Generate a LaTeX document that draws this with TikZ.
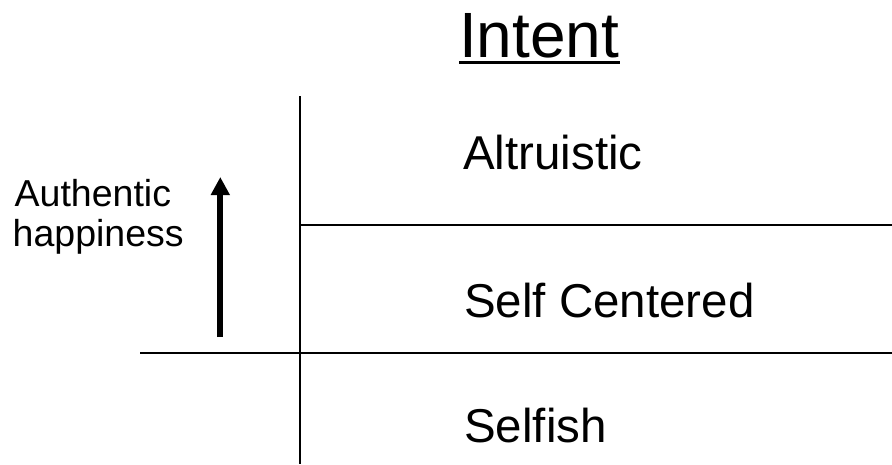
\documentclass[tikz,border=0pt]{standalone}
\usepackage{fontspec}
\setmainfont{Liberation Sans}
\usetikzlibrary{arrows.meta}
\begin{document}
\begin{tikzpicture}[x=1pt,y=-1pt,
  rule/.style={line width=2pt,black},
  lbl/.style={anchor=base west,inner sep=0pt,font=\fontsize{47.5}{52}\selectfont},
  sidelbl/.style={anchor=base west,inner sep=0pt,font=\fontsize{37.5}{41}\selectfont},
  uparrow/.style={line width=6pt,-{Triangle[width=18pt,length=18pt]}}]
\fill[white] (0,0) rectangle (892,464);
\useasboundingbox (0,0) rectangle (892,464);
% title
\node[anchor=base west,inner sep=0pt,font=\fontsize{64}{70}\selectfont] (title) at (459,57) {Intent};
\draw[line width=3pt] ([yshift=-5pt]title.base west) -- ([yshift=-5pt]title.base east);
% grid lines
\coordinate (vtop) at (300,96);
\coordinate (vbot) at (300,464);
\coordinate (h1l) at (300,225);
\coordinate (h1r) at (892,225);
\coordinate (h2l) at (140,353);
\coordinate (h2r) at (892,353);
\draw[rule] (vtop) -- (vbot);
\draw[rule] (h1l) -- (h1r);
\draw[rule] (h2l) -- (h2r);
% labels
\node[lbl] (alt) at (463,169) {Altruistic};
\node[lbl] (selfc) at (464,317) {Self Centered};
\node[lbl] (selfish) at (464,442) {Selfish};
\node[sidelbl] (auth) at (14.5,206) {Authentic};
\node[sidelbl] (happ) at (12.5,246.7) {happiness};
% arrow
\coordinate (arrbot) at (220.3,337);
\coordinate (arrtop) at (220.3,177);
\draw[uparrow] (arrbot) -- (arrtop);
\end{tikzpicture}
\end{document}
